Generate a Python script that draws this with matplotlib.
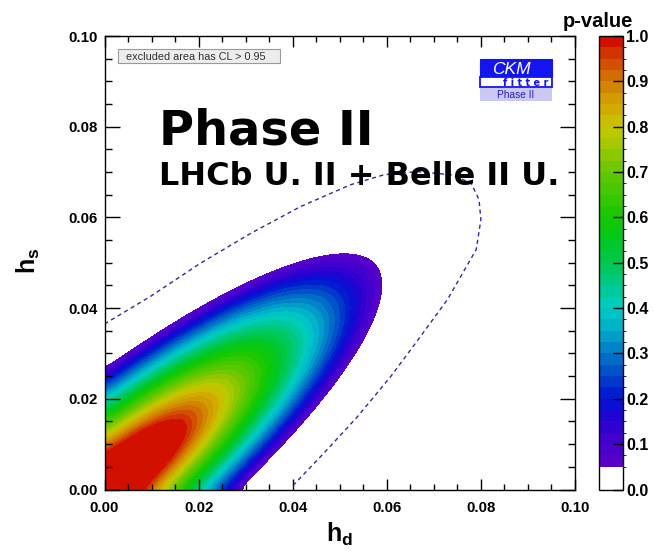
import numpy as np
import matplotlib
matplotlib.use("Agg")
import matplotlib.pyplot as plt
from matplotlib.colors import LinearSegmentedColormap, ListedColormap, BoundaryNorm
from matplotlib.cm import ScalarMappable
from matplotlib.patches import Rectangle

# ---------------- data ----------------
# points on the p-value = 0.05 (95% CL) edge of the coloured region
bound_hd = np.array([0.0000, 0.0069, 0.0132, 0.0203, 0.0310, 0.0416, 0.0487, 0.0558,
                     0.0579, 0.0583, 0.0565, 0.0515, 0.0444, 0.0373, 0.0285])
bound_hs = np.array([0.0267, 0.0308, 0.0352, 0.0403, 0.0462, 0.0502, 0.0519, 0.0506,
                     0.0469, 0.0433, 0.0359, 0.0263, 0.0175, 0.0102, 0.0003])
edge_pvalue = 0.05          # p-value on that edge
best_fit = (0.002, 0.002)   # point the inner contours shrink towards
plateau_frac = 0.25         # p = 1 plateau, as fraction of the edge size

# dashed contour (current constraint)
dash_hd = [0.0000, 0.0098, 0.0204, 0.0311, 0.0417, 0.0523, 0.0594, 0.0665, 0.0736,
           0.0779, 0.0796, 0.0800, 0.0790, 0.0729, 0.0672, 0.0609, 0.0538, 0.0467, 0.0399]
dash_hs = [0.0365, 0.0426, 0.0499, 0.0565, 0.0624, 0.0672, 0.0694, 0.0701, 0.0694,
           0.0676, 0.0639, 0.0595, 0.0529, 0.0419, 0.0338, 0.0250, 0.0161, 0.0081, 0.0007]

axis_ticks = [0.00, 0.02, 0.04, 0.06, 0.08, 0.10]
cbar_ticks = [0.0, 0.1, 0.2, 0.3, 0.4, 0.5, 0.6, 0.7, 0.8, 0.9, 1.0]
band_step = 0.025

# ---------------- styles ----------------
anchor_p = [0.05, 0.10, 0.15, 0.20, 0.25, 0.30, 0.35, 0.40, 0.45, 0.50,
            0.55, 0.60, 0.65, 0.70, 0.75, 0.80, 0.85, 0.90, 0.95, 1.00]
anchor_rgb = [(90, 0, 200), (70, 0, 205), (40, 0, 210), (0, 20, 210), (0, 70, 200),
              (0, 120, 200), (0, 170, 200), (0, 205, 200), (0, 200, 140), (0, 200, 80),
              (0, 200, 30), (20, 200, 0), (60, 200, 0), (100, 200, 0), (150, 200, 0),
              (200, 200, 0), (210, 165, 0), (210, 125, 0), (210, 70, 0), (210, 0, 0)]

W, H = 654, 551
plt.rcParams["mathtext.fontset"] = "custom"
plt.rcParams["mathtext.bf"] = "Liberation Sans:bold"
plt.rcParams["mathtext.rm"] = "Liberation Sans"
plt.rcParams["mathtext.it"] = "Liberation Sans:italic"

fig = plt.figure(figsize=(W / 100, H / 100), dpi=100)


def fx(px):
    return px / W


def fy(py):
    return 1 - py / H


ax = fig.add_axes([fx(104.5), fy(489.5), (575 - 104.5) / W, (489.5 - 36) / H])

# ---------------- p-value field ----------------
# conic through the read edge points
A = np.column_stack([bound_hd ** 2, bound_hd * bound_hs, bound_hs ** 2, bound_hd, bound_hs])
a, b, c, d, e = np.linalg.lstsq(A, np.ones_like(bound_hd), rcond=None)[0]
M = np.array([[a, b / 2], [b / 2, c]])
ctr = -0.5 * np.linalg.solve(M, np.array([d, e]))
K = 1 + ctr @ M @ ctr


def qform(ux, uy, vx, vy):
    return a * ux * vx + 0.5 * b * (ux * vy + uy * vx) + c * uy * vy


n = 500
gx = np.linspace(0, 0.1, n)
gy = np.linspace(0, 0.1, n)
X, Y = np.meshgrid(gx, gy)
eps = 0.0012
Xe = np.sqrt(X ** 2 + eps ** 2)
Ye = np.sqrt(Y ** 2 + eps ** 2)
# relative size rho: the edge shape scaled about best_fit passes through the point
vx = Xe - best_fit[0]
vy = Ye - best_fit[1]
wx = best_fit[0] - ctr[0]
wy = best_fit[1] - ctr[1]
qa = qform(vx, vy, vx, vy)
qb = qform(wx, wy, vx, vy)
qc = qform(wx, wy, wx, wy) - K
qa = np.where(qa <= 0, 1e-30, qa)
u = (-qb + np.sqrt(qb ** 2 - qa * qc)) / qa
rho = 1.0 / u
# p falls from 1 on the plateau to edge_pvalue on the edge
P = 1.0 - (1.0 - edge_pvalue) * np.clip(rho - plateau_frac, 0, None) / (1.0 - plateau_frac)

# ---------------- colours ----------------
cmap_c = LinearSegmentedColormap.from_list(
    "ckm", [((p - anchor_p[0]) / (anchor_p[-1] - anchor_p[0]), tuple(v / 255 for v in rgb))
            for p, rgb in zip(anchor_p, anchor_rgb)])
band_lv = np.arange(edge_pvalue, 1.0 + 1e-9, band_step)
levels_all = np.concatenate([[0.0], band_lv])
levels_all[-1] = 1.0001
mids = 0.5 * (band_lv[:-1] + band_lv[1:])
band_cols = [cmap_c((m - anchor_p[0]) / (anchor_p[-1] - anchor_p[0])) for m in mids]
cols_all = [(1, 1, 1, 1)] + band_cols
lcmap = ListedColormap(cols_all)
norm = BoundaryNorm(levels_all, len(cols_all))

cs = ax.contourf(X, Y, P, levels=levels_all[1:], colors=band_cols, zorder=1)
cs.set_edgecolor("face")
cs.set_linewidth(0.6)
ax.plot(dash_hd, dash_hs, ls=(0, (3, 2.5)), lw=1.0, color="#2d2d96", zorder=3)

ax.set_xlim(0, 0.1)
ax.set_ylim(0, 0.1)
tick_font = {"family": "Liberation Sans", "weight": "bold", "size": 10.8}
ax.set_xticks(axis_ticks)
ax.set_yticks(axis_ticks)
ax.set_xticklabels([f"{t:.2f}" for t in axis_ticks], fontdict=tick_font)
ax.set_yticklabels([f"{t:.2f}" for t in axis_ticks], fontdict=tick_font)
ax.set_xticks(np.arange(0, 0.1001, 0.005), minor=True)
ax.set_yticks(np.arange(0, 0.1001, 0.005), minor=True)
ax.tick_params(axis="x", which="major", direction="in", length=8, width=1, top=True, pad=8)
ax.tick_params(axis="x", which="minor", direction="in", length=4.5, width=1, top=True)
ax.tick_params(axis="y", which="major", direction="in", length=11, width=1, right=True, pad=5)
ax.tick_params(axis="y", which="minor", direction="in", length=5, width=1, right=True)
for sp in ax.spines.values():
    sp.set_linewidth(1.0)
    sp.set_zorder(5)

# axis titles
fig.text(fx(340), fy(541.5), r"$\mathbf{h_d}$", ha="center", va="baseline", fontsize=18)
fig.text(fx(28.5), fy(261), r"$\mathbf{h_s}$", ha="center", va="center", fontsize=18, rotation=90)

# big labels
fig.text(fx(159), fy(144.5), "Phase II", family="DejaVu Sans", weight="bold",
         fontsize=34.5, va="baseline", zorder=10)
fig.text(fx(159), fy(185), "LHCb U. II + Belle II U.", family="DejaVu Sans", weight="bold",
         fontsize=23, va="baseline", zorder=10)

# excluded-area box
fig.add_artist(Rectangle((fx(118), fy(63.3)), 162 / W, 14.3 / H, transform=fig.transFigure,
                         facecolor="#ededed", edgecolor="#9a9a9a", lw=0.8))
fig.text(fx(125.5), fy(56.5), "excluded area has CL > 0.95", family="Liberation Sans",
         fontsize=7.8, color="#303030", va="center")

# CKMfitter logo
blue = "#1414f0"
fig.add_artist(Rectangle((fx(480), fy(77.3)), 72 / W, 18.3 / H, transform=fig.transFigure,
                         facecolor=blue, edgecolor=blue, lw=0.8))
fig.add_artist(Rectangle((fx(480), fy(87)), 72 / W, 9.7 / H, transform=fig.transFigure,
                         facecolor="white", edgecolor=blue, lw=1.3))
fig.add_artist(Rectangle((fx(480), fy(101)), 72 / W, 12.7 / H, transform=fig.transFigure,
                         facecolor="#c8c8f0", edgecolor="none"))
fig.text(fx(511), fy(74), "CKM", family="Liberation Sans", style="italic", fontsize=12.5,
         color="white", ha="center", va="baseline")
fig.text(fx(548.5), fy(86), "f i t t e r", family="DejaVu Sans", weight="bold", fontsize=7.0,
         color=blue, ha="right", va="baseline")
fig.text(fx(516), fy(98.5), "Phase II", family="Liberation Sans", fontsize=7.3,
         color="#2222bb", ha="center", va="baseline")

# colour bar
cax = fig.add_axes([fx(599), fy(489.5), 24 / W, (489.5 - 36) / H])
cb = fig.colorbar(ScalarMappable(norm=norm, cmap=lcmap), cax=cax, ticks=cbar_ticks,
                  spacing="proportional", drawedges=False)
cb.outline.set_linewidth(1.0)
cax.yaxis.set_ticks_position("right")
cax.tick_params(direction="in", length=7, width=1, pad=2.5)
cax.set_yticklabels([f"{t:.1f}" for t in cbar_ticks],
                    fontdict={"family": "Liberation Sans", "weight": "bold", "size": 11.5})
cax.set_ylim(0, 1)
fig.text(fx(598), fy(26.7), "p-value", family="Liberation Sans", weight="bold", fontsize=14.5,
         ha="center", va="baseline")

fig.savefig("out.png", dpi=100)
